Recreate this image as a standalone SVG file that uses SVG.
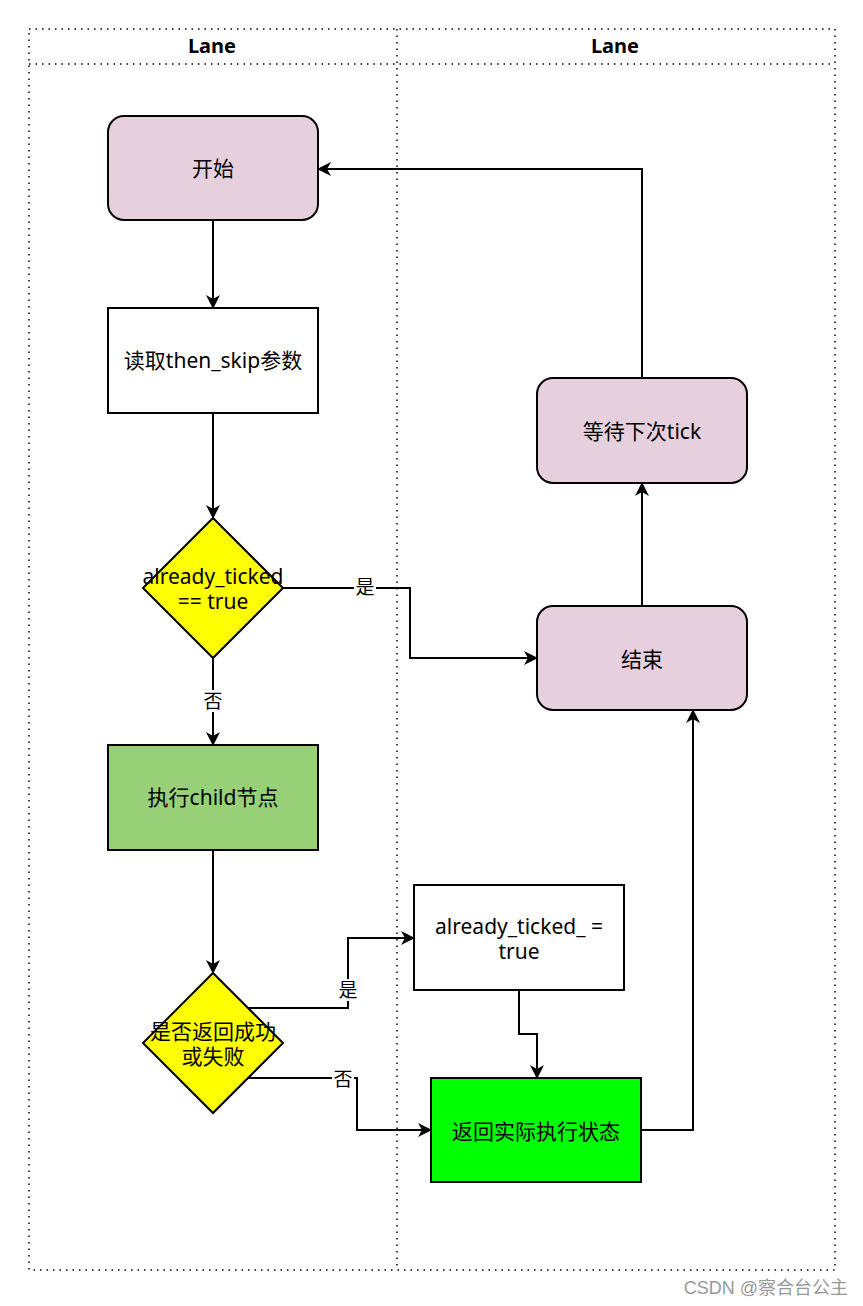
<svg xmlns="http://www.w3.org/2000/svg" width="863" height="1306" viewBox="0 0 863 1306">
<style>
.lane{fill:none;stroke:#000;stroke-width:1.5;stroke-dasharray:1.5 5}
.hd{font-family:"Noto Sans","DejaVu Sans",sans-serif;font-weight:bold;font-size:20px;text-anchor:middle;fill:#000}
.t{font-family:"Noto Sans","Noto Sans CJK SC",sans-serif;font-size:21px;text-anchor:middle;dominant-baseline:central;fill:#000}
.lbl{font-family:"Noto Sans","Noto Sans CJK SC",sans-serif;font-size:19px;text-anchor:middle;dominant-baseline:central;fill:#000}
.n{stroke:#000;stroke-width:2}
.c{fill:none;stroke:#000;stroke-width:2;marker-end:url(#ah)}
</style>
<defs>
<marker id="ah" viewBox="0 0 14 14" refX="13" refY="7" markerWidth="14" markerHeight="14" markerUnits="userSpaceOnUse" orient="auto">
<path d="M0,0 L14,7 L0,14 L4,7 Z" fill="#000"/>
</marker>
</defs>
<rect width="863" height="1306" fill="#fff"/>
<g id="lanes">
<rect class="lane" x="29" y="29" width="806" height="1241"/>
<line class="lane" x1="29" y1="64" x2="835" y2="64"/>
<line class="lane" x1="397" y1="29" x2="397" y2="1270"/>
<text class="hd" x="212" y="53">Lane</text>
<text class="hd" x="615" y="53">Lane</text>
</g>
<g id="connectors">
<path class="c" d="M213,220 L213,308"/>
<path class="c" d="M213,413 L213,518"/>
<path class="c" d="M283,588 L410,588 L410,658 L537,658"/>
<path class="c" d="M213,658 L213,745"/>
<path class="c" d="M213,850 L213,973"/>
<path class="c" d="M248,1008 L348,1008 L348,938 L414,938"/>
<path class="c" d="M248,1078 L357,1078 L357,1130 L431,1130"/>
<path class="c" d="M519,990 L519,1034 L537,1034 L537,1078"/>
<path class="c" d="M641,1130 L693,1130 L693,710"/>
<path class="c" d="M642,606 L642,483"/>
<path class="c" d="M642,378 L642,169 L318,169"/>
<rect x="354" y="576" width="22" height="22" fill="#fff"/>
<text class="lbl" x="365" y="587">是</text>
<rect x="202" y="690" width="22" height="22" fill="#fff"/>
<text class="lbl" x="213" y="701">否</text>
<rect x="337" y="979" width="22" height="22" fill="#fff"/>
<text class="lbl" x="348" y="990">是</text>
<rect x="332" y="1068" width="22" height="22" fill="#fff"/>
<text class="lbl" x="343" y="1079">否</text>
</g>
<g id="start">
<rect class="n" x="108" y="116" width="210" height="104" rx="16" fill="#e6d0de"/>
<text class="t" x="213" y="168">开始</text>
</g>
<g id="read">
<rect class="n" x="108" y="308" width="210" height="105" fill="#fff"/>
<text class="t" x="213" y="360">读取then_skip参数</text>
</g>
<g id="dec1">
<polygon class="n" points="213,518 283,588 213,658 143,588" fill="#ffff00"/>
<text class="t"><tspan x="213" y="576">already_ticked</tspan><tspan x="213" y="601">== true</tspan></text>
</g>
<g id="exec">
<rect class="n" x="108" y="745" width="210" height="105" fill="#97d077"/>
<text class="t" x="213" y="797">执行child节点</text>
</g>
<g id="dec2">
<polygon class="n" points="213,973 283,1043 213,1113 143,1043" fill="#ffff00"/>
<text class="t"><tspan x="213" y="1031">是否返回成功</tspan><tspan x="213" y="1056">或失败</tspan></text>
</g>
<g id="setticked">
<rect class="n" x="414" y="885" width="210" height="105" fill="#fff"/>
<text class="t"><tspan x="519" y="926">already_ticked_ =</tspan><tspan x="519" y="951">true</tspan></text>
</g>
<g id="ret">
<rect class="n" x="431" y="1078" width="210" height="104" fill="#00ff00"/>
<text class="t" x="536" y="1131">返回实际执行状态</text>
</g>
<g id="end">
<rect class="n" x="537" y="606" width="210" height="104" rx="16" fill="#e6d0de"/>
<text class="t" x="642" y="659">结束</text>
</g>
<g id="wait">
<rect class="n" x="537" y="378" width="210" height="105" rx="16" fill="#e6d0de"/>
<text class="t" x="642" y="431">等待下次tick</text>
</g>
<text x="848" y="1294" font-family="'Liberation Sans','Noto Sans CJK SC',sans-serif" font-size="18" fill="#999" text-anchor="end">CSDN @察合台公主</text>
</svg>
